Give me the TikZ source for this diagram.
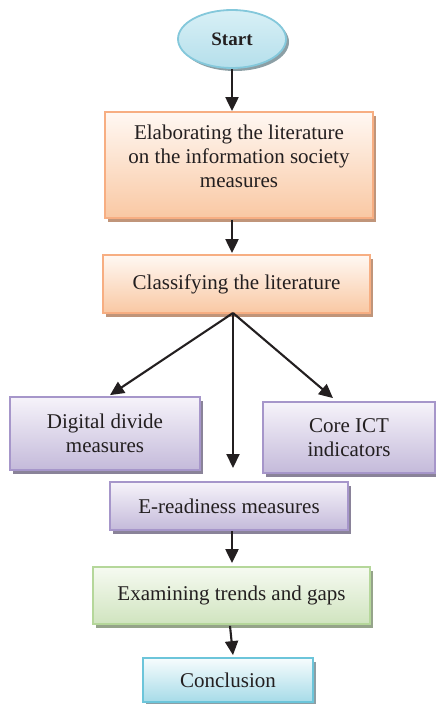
\documentclass[tikz,border=0pt]{standalone}
\usepackage{fontspec}
\setmainfont{Liberation Serif}
\usetikzlibrary{arrows.meta,shapes.geometric,shadows,calc}
\definecolor{txt}{HTML}{231F20}
\definecolor{orbd}{HTML}{F7AE82}
\definecolor{ortop}{HTML}{FFF8F3}
\definecolor{orbot}{HTML}{F9C8A3}
\definecolor{orsh}{HTML}{C0957A}
\definecolor{pubd}{HTML}{A696CA}
\definecolor{putop}{HTML}{F6F3FA}
\definecolor{pubot}{HTML}{C4BADA}
\definecolor{push}{HTML}{8A8399}
\definecolor{grbd}{HTML}{B5D79A}
\definecolor{grtop}{HTML}{F6FAF1}
\definecolor{grbot}{HTML}{D0E4BF}
\definecolor{grsh}{HTML}{95A48A}
\definecolor{blbd}{HTML}{6CC5DA}
\definecolor{bltop}{HTML}{F7FCFD}
\definecolor{blbot}{HTML}{A6DBE8}
\definecolor{blsh}{HTML}{8C9FA5}
\definecolor{stbd}{HTML}{84C8DB}
\definecolor{sttop}{HTML}{D8F0F6}
\definecolor{stbot}{HTML}{B5DFEB}
\tikzset{
  base/.style={rectangle, line width=1.8pt, text=txt, align=center, inner sep=0pt,
    font=\fontsize{21}{24}\selectfont},
  orbox/.style={base, draw=orbd, top color=ortop, bottom color=orbot,
    drop shadow={shadow xshift=3pt, shadow yshift=-3.5pt, fill=orsh, opacity=1}},
  pubox/.style={base, draw=pubd, top color=putop, bottom color=pubot,
    drop shadow={shadow xshift=3pt, shadow yshift=-3.5pt, fill=push, opacity=1}},
  grbox/.style={base, draw=grbd, top color=grtop, bottom color=grbot,
    drop shadow={shadow xshift=3pt, shadow yshift=-3.5pt, fill=grsh, opacity=1}},
  blbox/.style={base, draw=blbd, top color=bltop, bottom color=blbot,
    drop shadow={shadow xshift=3pt, shadow yshift=-3.5pt, fill=blsh, opacity=1}},
  startnode/.style={ellipse, line width=1.8pt, draw=stbd, top color=sttop, bottom color=stbot,
    inner sep=0pt, text=txt, font=\fontsize{19}{21}\selectfont\bfseries,
    drop shadow={shadow xshift=3pt, shadow yshift=-3pt, fill=blsh, opacity=1}},
  arr/.style={line width=2.1pt, draw=txt, -{Triangle[length=14pt,width=13pt]}}
}
\begin{document}
\begin{tikzpicture}[x=1pt,y=-1pt]
\useasboundingbox (0,0) rectangle (436,704);
\node[startnode, minimum width=108pt, minimum height=58pt] (start) at (232,39) {Start};
\node[orbox, minimum width=268pt, minimum height=106pt] (b1) at (239,165)
  {Elaborating the literature\\on the information society\\measures\\[-6pt]\mbox{}};
\node[orbox, minimum width=267pt, minimum height=58pt] (b2) at (236.5,284) {Classifying the literature};
\node[pubox, minimum width=190pt, minimum height=73pt] (dd) at (105,433.5) {Digital divide\\measures};
\node[pubox, minimum width=172pt, minimum height=71pt] (ict) at (349,437.5) {Core ICT\\indicators};
\node[pubox, minimum width=238pt, minimum height=48pt] (er) at (229,506) {E-readiness measures};
\node[grbox, minimum width=277pt, minimum height=57pt] (ex) at (231.5,595.5) {Examining trends and gaps};
\node[blbox, minimum width=170pt, minimum height=44pt] (con) at (228,680) {Conclusion};
\coordinate (fork) at (233,313);
\coordinate (midend) at (233,468);
\draw[arr] (start.south) -- (start.south |- b1.north);
\draw[arr] ($(start.south |- b1.south)+(0,1)$) -- ($(start.south |- b2.north)+(0,-1)$);
\draw[arr] (fork) -- ($(dd.north)+(5,-1)$);
\draw[arr] (fork) -- ($(ict.north)+(-16,-3)$);
\draw[arr] (fork) -- (midend);
\draw[arr] ($(er.south)+(3,0)$) -- ($(ex.north)+(0.5,-3)$);
\draw[arr] ($(ex.south)+(-1.5,1)$) -- ($(con.north)+(5,-2)$);
\end{tikzpicture}
\end{document}
